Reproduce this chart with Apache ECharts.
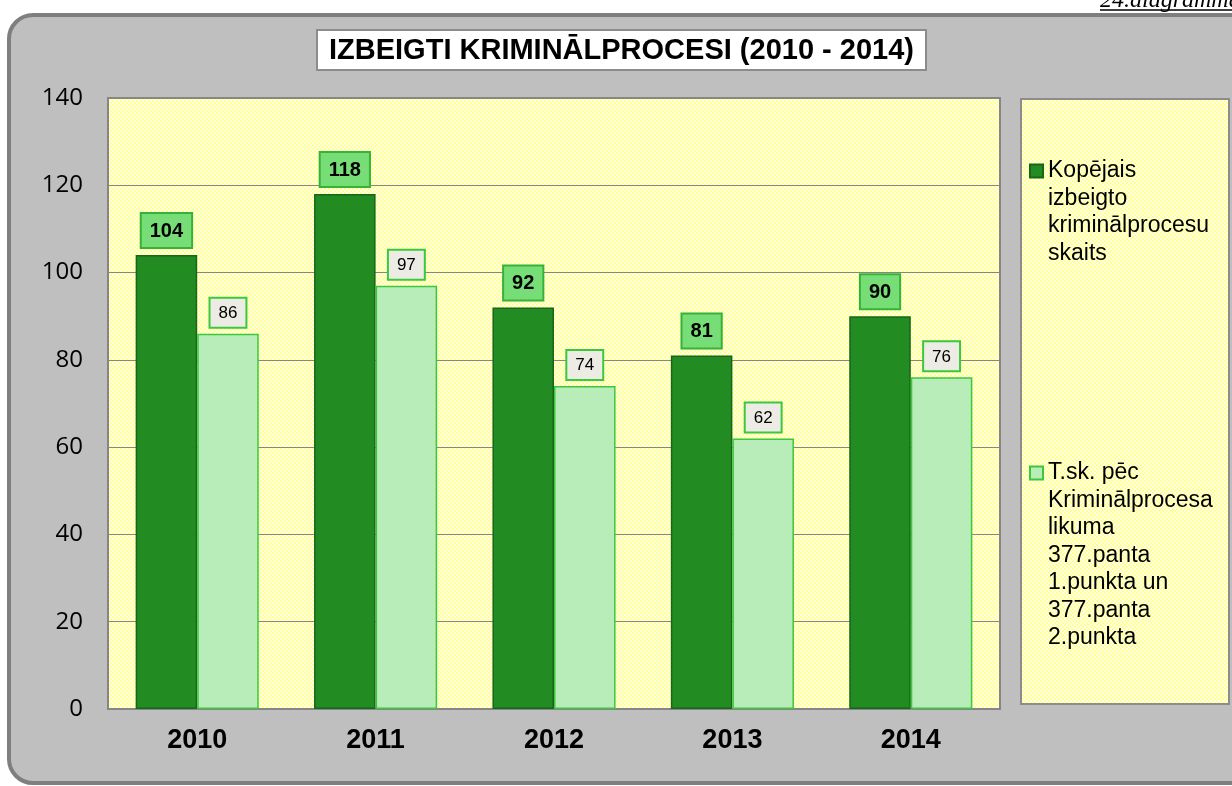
<!DOCTYPE html>
<html>
<head>
<meta charset="utf-8">
<script src="https://cdn.jsdelivr.net/npm/echarts@6/dist/echarts.min.js"></script>
<style>
html,body{margin:0;padding:0;background:#fff;}
#chart{width:1232px;height:786px;}
</style>
</head>
<body>
<div id="chart"></div>
<script>
// ---- data ----
const years = ['2010', '2011', '2012', '2013', '2014'];
const totalCases = [104, 118, 92, 81, 90];
const articleCases = [86, 97, 74, 62, 76];
const seriesNames = [
  'Kopējais\nizbeigto\nkriminālprocesu\nskaits',
  'T.sk. pēc\nKriminālprocesa\nlikuma\n377.panta\n1.punkta un\n377.panta\n2.punkta'
];
const titleText = 'IZBEIGTI KRIMINĀLPROCESI (2010 - 2014)';
const cornerNote = '24.diagramma';

function makePattern() {
  const c = document.createElement('canvas');
  c.width = 4; c.height = 4;
  const g = c.getContext('2d');
  g.fillStyle = '#ffffe0'; g.fillRect(0, 0, 4, 4);
  g.fillStyle = '#ffff9c'; g.fillRect(0, 0, 2, 2); g.fillRect(2, 2, 2, 2);
  return c;
}
const pat = makePattern();
const yellowFill = { image: pat, repeat: 'repeat' };

const LH = 27.5;
function nLines(s) { return s.split('\n').length; }
// prepend blank lines so the legend symbol lines up with the first text line
function legendLabel(name) { return '\n'.repeat(nLines(name) - 1) + name; }
function legendTop(name, firstLineCenter) { return firstLineCenter - (2 * nLines(name) - 1) * LH / 2; }

const legendText = { fontFamily: 'Liberation Sans, Arial, sans-serif', fontSize: 23, color: '#000', lineHeight: LH };

const chart = echarts.init(document.getElementById('chart'), null, { renderer: 'canvas' });
const option = {
  backgroundColor: '#ffffff',
  animation: false,
  title: {
    text: titleText,
    left: 317, top: 30,
    padding: [6, 12, 5, 12],
    backgroundColor: '#ffffff',
    borderColor: '#8c8c8c',
    borderWidth: 2,
    textStyle: { fontFamily: 'Liberation Sans, Arial, sans-serif', fontWeight: 'bold', fontSize: 29, color: '#000' }
  },
  graphic: [
    { type: 'rect', z: -10, silent: true,
      shape: { x: 9, y: 15, width: 1250, height: 768, r: 24 },
      style: { fill: '#bfbfbf', stroke: '#7f7f7f', lineWidth: 4 } },
    { type: 'rect', z: -5, silent: true,
      shape: { x: 1021, y: 99, width: 208, height: 605 },
      style: { fill: yellowFill, stroke: '#8c8c8c', lineWidth: 2 } },
    { type: 'text', silent: true, x: 1100, y: 13,
      style: { text: cornerNote, font: 'italic 24px "Liberation Serif", serif', fill: '#000', verticalAlign: 'bottom' } },
    { type: 'line', silent: true,
      shape: { x1: 1100, y1: 10, x2: 1232, y2: 10 },
      style: { stroke: '#000', lineWidth: 1.5 } }
  ],
  legend: [
    { data: [seriesNames[0]], left: 1029, top: legendTop(seriesNames[0], 171), orient: 'vertical', padding: 0,
      itemWidth: 13, itemHeight: 13, icon: 'rect', selectedMode: false,
      formatter: legendLabel, textStyle: legendText },
    { data: [seriesNames[1]], left: 1029, top: legendTop(seriesNames[1], 473), orient: 'vertical', padding: 0,
      itemWidth: 13, itemHeight: 13, icon: 'rect', selectedMode: false,
      formatter: legendLabel, textStyle: legendText }
  ],
  grid: {
    left: 108, top: 98, width: 892, bottom: 77,
    show: true, backgroundColor: yellowFill, borderColor: '#868686', borderWidth: 2,
    containLabel: false
  },
  xAxis: {
    type: 'category', data: years,
    axisLine: { show: false }, axisTick: { show: false },
    axisLabel: { margin: 18, fontFamily: 'Liberation Sans, Arial, sans-serif', fontWeight: 'bold', fontSize: 27, color: '#000' }
  },
  yAxis: {
    type: 'value', min: 0, max: 140, interval: 20,
    axisLine: { show: false }, axisTick: { show: false },
    splitLine: { lineStyle: { color: '#868686', width: 1 } },
    axisLabel: { margin: 25, fontFamily: 'Open Sans, sans-serif', fontSize: 24, color: '#000' }
  },
  series: [
    { name: seriesNames[0], type: 'bar', data: totalCases,
      barGap: '0%', barCategoryGap: '31%',
      itemStyle: { color: '#228b22', borderColor: '#17661a', borderWidth: 1.5 },
      label: { show: true, position: 'top', distance: 8,
        fontFamily: 'Liberation Sans, Arial, sans-serif', fontWeight: 'bold', fontSize: 20, color: '#000',
        backgroundColor: '#77dd77', borderColor: '#36b336', borderWidth: 2, padding: [7, 8, 6, 8] } },
    { name: seriesNames[1], type: 'bar', data: articleCases,
      itemStyle: { color: '#b8ecb8', borderColor: '#3cc83c', borderWidth: 1.5 },
      label: { show: true, position: 'top', distance: 7,
        fontFamily: 'Liberation Sans, Arial, sans-serif', fontSize: 17, color: '#000',
        backgroundColor: '#ecebe4', borderColor: '#3cc83c', borderWidth: 2, padding: [6, 8, 5, 8] } }
  ]
};
chart.setOption(option);
</script>
</body>
</html>
